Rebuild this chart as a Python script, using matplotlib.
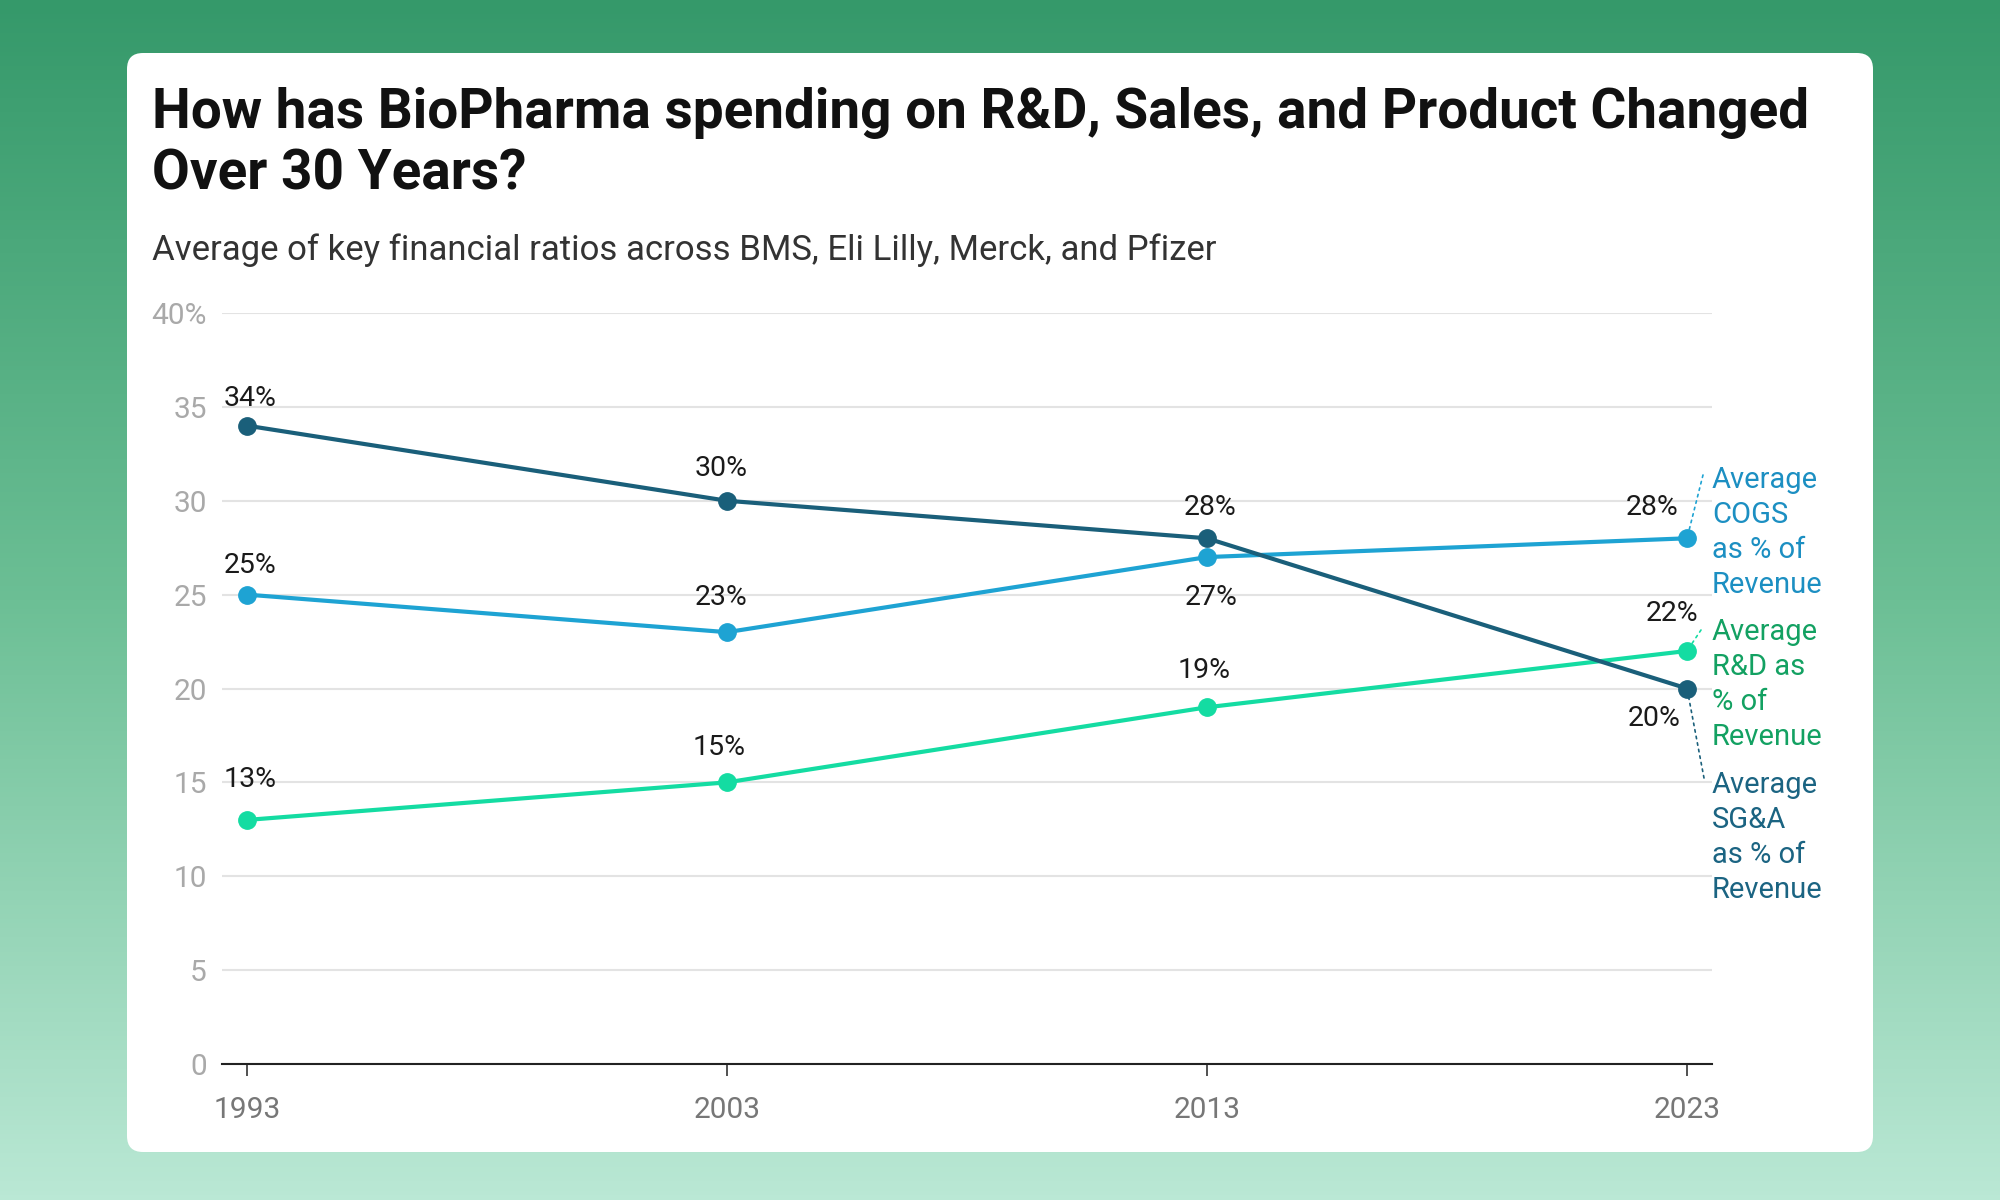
import numpy as np
import matplotlib
matplotlib.use("Agg")
import matplotlib.pyplot as plt
from matplotlib.patches import FancyBboxPatch
from matplotlib.transforms import IdentityTransform
from matplotlib.colors import LinearSegmentedColormap

# ---------------- data ----------------
years = [1993, 2003, 2013, 2023]
sga = [34, 30, 28, 20]
cogs = [25, 23, 27, 28]
rnd = [13, 15, 19, 22]

series_names = ["Average\nSG&A\nas % of\nRevenue",
                "Average\nCOGS\nas % of\nRevenue",
                "Average\nR&D as\n% of\nRevenue"]
y_ticks = [0, 5, 10, 15, 20, 25, 30, 35, 40]
y_tick_labels = ["0", "5", "10", "15", "20", "25", "30", "35", "40%"]
x_tick_labels = ["1993", "2003", "2013", "2023"]

title_lines = ["How has BioPharma spending on R&D, Sales, and Product Changed",
               "Over 30 Years?"]
subtitle = "Average of key financial ratios across BMS, Eli Lilly, Merck, and Pfizer"

# ---------------- style ----------------
W, H = 2000, 1200
FONT = "Roboto"
c_sga, c_cogs, c_rnd = "#1a5f7a", "#1ea3d3", "#14dca2"
t_sga, t_cogs, t_rnd = "#1b6482", "#1c8fc2", "#13a162"

fig = plt.figure(figsize=(W / 100, H / 100), dpi=100)

# gradient background
bg = fig.add_axes([0, 0, 1, 1], zorder=-10)
cmap = LinearSegmentedColormap.from_list("bg", ["#35996a", "#6cbf95", "#bae8d5"])
grad = np.linspace(0, 1, 256).reshape(-1, 1)
bg.imshow(grad, aspect="auto", cmap=cmap, extent=[0, 1, 0, 1], origin="upper")
bg.set_axis_off()

# white card
card = FancyBboxPatch((127, H - 1152), 1873 - 127, 1152 - 53,
                      boxstyle="round,pad=0,rounding_size=16",
                      transform=IdentityTransform(), facecolor="white",
                      edgecolor="none", zorder=-5)
fig.patches.append(card)

def fy(px):
    return 1 - px / H

def fx(px):
    return px / W

# title and subtitle
fig.text(fx(152), fy(128), title_lines[0], fontsize=39.5, fontweight="bold",
         family=FONT, color="#111111", va="baseline")
fig.text(fx(152), fy(190), title_lines[1], fontsize=39.5, fontweight="bold",
         family=FONT, color="#111111", va="baseline")
fig.text(fx(152), fy(260), subtitle, fontsize=25, family=FONT,
         color="#333333", va="baseline")

# main axes: x 222..1712 px, y 313..1064 px
ax = fig.add_axes([fx(222), fy(1064), (1712 - 222) / W, (1064 - 313) / H])
ax.patch.set_alpha(0)
ax.set_xlim(1992.48, 2023.52)
ax.set_ylim(0, 40)

ax.set_yticks(y_ticks)
ax.set_yticklabels(y_tick_labels)
ax.set_xticks(years)
ax.set_xticklabels(x_tick_labels)
ax.tick_params(axis="y", length=0, pad=11, labelsize=21.5, labelcolor="#a9a9a9")
ax.tick_params(axis="x", length=8.6, width=1.1, color="#222222", pad=14.5,
               labelsize=21.5, labelcolor="#777777")
for lab in ax.get_xticklabels() + ax.get_yticklabels():
    lab.set_family(FONT)
for s in ["top", "right", "left"]:
    ax.spines[s].set_visible(False)
ax.spines["bottom"].set_color("#222222")
ax.spines["bottom"].set_linewidth(1.5)
ax.yaxis.grid(True, color="#e3e3e3", linewidth=1.5)
ax.set_axisbelow(True)

lw, ms = 3.0, 12.5
ax.plot(years, rnd, color=c_rnd, lw=lw, marker="o", ms=ms, zorder=3,
        solid_capstyle="round")
ax.plot(years, cogs, color=c_cogs, lw=lw, marker="o", ms=ms, zorder=4,
        solid_capstyle="round")
ax.plot(years, sga, color=c_sga, lw=lw, marker="o", ms=ms, zorder=5,
        solid_capstyle="round")

# value labels, offsets in pixels
def vlabel(x, y, dx, dy, ha="center"):
    ax.annotate(f"{y}%", xy=(x, y), xytext=(dx, dy), textcoords="offset pixels",
                ha=ha, va="baseline", fontsize=20.5, family=FONT,
                color="#1a1a1a", zorder=6)

sga_off = [(3, 20, "center"), (-6, 25, "center"), (3, 23, "center"), (-6, -37, "right")]
cogs_off = [(3, 22, "center"), (-6, 27, "center"), (4, -48, "center"), (-9, 23, "right")]
rnd_off = [(3, 33, "center"), (-8, 27, "center"), (-3, 29, "center"), (11, 30, "right")]
for vals, offs in [(sga, sga_off), (cogs, cogs_off), (rnd, rnd_off)]:
    for x, y, (dx, dy, ha) in zip(years, vals, offs):
        vlabel(x, y, dx, dy, ha)

# direct series labels with dotted leaders
label_specs = [
    (series_names[1], t_cogs, c_cogs, cogs[-1], 488, (1703, 475)),
    (series_names[2], t_rnd, c_rnd, rnd[-1], 640, (1701, 630)),
    (series_names[0], t_sga, c_sga, sga[-1], 793, (1704, 778)),
]
for text, tcol, lcol, val, base, (lx, ly) in label_specs:
    for i, line in enumerate(text.split("\n")):
        fig.text(fx(1712), fy(base + 35 * i), line, fontsize=21, family=FONT,
                 color=tcol, va="baseline", ha="left")
    ax.annotate("", xy=(years[-1], val), xycoords="data",
                xytext=(lx, H - ly), textcoords="figure pixels",
                arrowprops=dict(arrowstyle="-", color=lcol, lw=1.2,
                                linestyle=(0, (1.5, 2.5)),
                                shrinkA=0, shrinkB=6.5))

fig.savefig("out.png", dpi=100)
